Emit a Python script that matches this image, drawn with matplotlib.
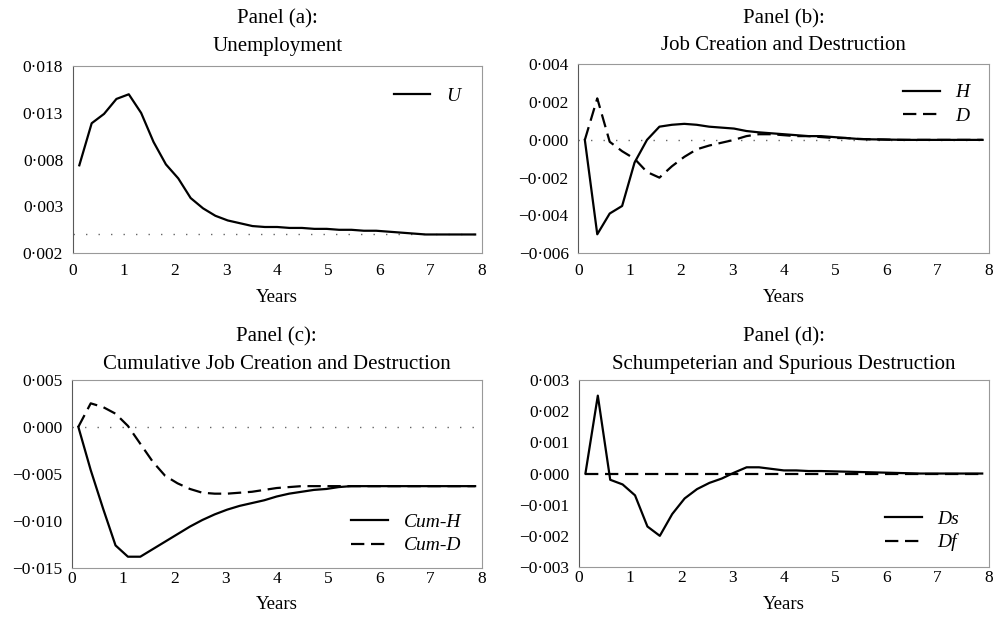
import matplotlib
matplotlib.use('Agg')
import matplotlib.pyplot as plt
import numpy as np

plt.rcParams['font.family'] = 'Liberation Serif'

# quarterly points, 33 of them between 1/8 and 7 7/8 years
years = np.linspace(0.125, 7.875, 33)

# Panel (a): unemployment
U = [0.0074, 0.0119, 0.0129, 0.0145, 0.0150, 0.0130, 0.0099, 0.0075, 0.0060,
     0.0039, 0.0028, 0.0020, 0.0015, 0.0012, 0.0009, 0.0008, 0.0008, 0.0007,
     0.0007, 0.0006, 0.0006, 0.0005, 0.0005, 0.0004, 0.0004, 0.0003, 0.0002,
     0.0001, 0.0, 0.0, 0.0, 0.0, 0.0]

# Panel (b): job creation H and destruction D
H = [0.0, -0.0050, -0.0039, -0.0035, -0.0012, 0.0, 0.0007, 0.0008, 0.00085,
     0.0008, 0.0007, 0.00065, 0.0006, 0.00047, 0.0004, 0.00035, 0.0003,
     0.00025, 0.0002, 0.0002, 0.00015, 0.0001, 0.00005, 0.00003, 0.00002,
     0.00001, 0.0, 0.0, 0.0, 0.0, 0.0, 0.0, 0.0]
D = [0.0, 0.0022, -0.0001, -0.0006, -0.0010, -0.0017, -0.0020, -0.0014,
     -0.0009, -0.0005, -0.0003, -0.00015, 0.0, 0.0002, 0.0003, 0.0003,
     0.00025, 0.0002, 0.0002, 0.00015, 0.0001, 0.0001, 0.00005, 0.00003,
     0.00002, 0.0, 0.0, 0.0, 0.0, 0.0, 0.0, 0.0, 0.0]

# Panel (c): cumulative creation and destruction
cum_H = [0.0, -0.0046, -0.0087, -0.0126, -0.0138, -0.0138, -0.0130, -0.0122,
         -0.0114, -0.0106, -0.0099, -0.0093, -0.0088, -0.0084, -0.0081,
         -0.0078, -0.0074, -0.0071, -0.0069, -0.0067, -0.0066, -0.0064,
         -0.0063, -0.0063, -0.0063, -0.0063, -0.0063, -0.0063, -0.0063,
         -0.0063, -0.0063, -0.0063, -0.0063]
cum_D = [0.0, 0.0025, 0.0021, 0.0014, 0.0001, -0.0018, -0.0037, -0.0052,
         -0.0060, -0.0066, -0.0070, -0.0071, -0.0071, -0.0070, -0.0069,
         -0.0067, -0.0065, -0.0064, -0.0063, -0.0063, -0.0063, -0.0063,
         -0.0063, -0.0063, -0.0063, -0.0063, -0.0063, -0.0063, -0.0063,
         -0.0063, -0.0063, -0.0063, -0.0063]

# Panel (d): Schumpeterian (Ds) and spurious (Df) destruction
Ds = [0.0, 0.0025, -0.0002, -0.00035, -0.0007, -0.0017, -0.0020, -0.0013,
      -0.0008, -0.0005, -0.0003, -0.00016, 0.00003, 0.0002, 0.0002, 0.00015,
      0.0001, 0.0001, 0.00008, 0.00008, 0.00007, 0.00006, 0.00005, 0.00004,
      0.00003, 0.00002, 0.00001, 0.0, 0.0, 0.0, 0.0, 0.0, 0.0]
Df = [0.0] * 33

# tick values and labels as printed
xticks = [0, 1, 2, 3, 4, 5, 6, 7, 8]
yticks_a = [0.018, 0.013, 0.008, 0.003, -0.002]
ylabels_a = ['0·018', '0·013', '0·008', '0·003', '0·002']
yticks_b = [0.004, 0.002, 0.0, -0.002, -0.004, -0.006]
ylabels_b = ['0·004', '0·002', '0·000', '−0·002', '−0·004', '−0·006']
yticks_c = [0.005, 0.0, -0.005, -0.010, -0.015]
ylabels_c = ['0·005', '0·000', '−0·005', '−0·010', '−0·015']
yticks_d = [0.003, 0.002, 0.001, 0.0, -0.001, -0.002, -0.003]
ylabels_d = ['0·003', '0·002', '0·001', '0·000', '−0·001', '−0·002', '−0·003']

dash = (0, (6, 3))
zero_dots = (0, (1, 8))


def style_panel(ax, title, yticks, ylabels, xpad, title_pad):
    ax.set_xlim(0, 8)
    ax.set_ylim(min(yticks), max(yticks))
    ax.set_xticks(xticks)
    ax.set_xticklabels([str(t) for t in xticks])
    ax.set_yticks(yticks)
    ax.set_yticklabels(ylabels)
    ax.tick_params(axis='y', length=0, labelsize=12.5, pad=7)
    ax.tick_params(axis='x', length=0, labelsize=12.5, pad=xpad)
    for side in ['top', 'right', 'bottom']:
        ax.spines[side].set_color('0.6')
        ax.spines[side].set_linewidth(0.8)
    ax.spines['left'].set_color('0.35')
    ax.spines['left'].set_linewidth(0.8)
    ax.set_title(title, fontsize=15, linespacing=1.6, pad=title_pad)
    ax.set_xlabel('Years', fontsize=13.5, labelpad=7)


fig = plt.figure(figsize=(9.99, 6.19), dpi=100)
leg_font = {'style': 'italic', 'size': 14}

# Panel (a)
ax = fig.add_axes([0.073, 0.591, 0.409, 0.302])
ax.axhline(0, color='0.4', lw=1, linestyle=zero_dots)
ax.plot(years, U, c='k', lw=1.6, label='U')
style_panel(ax, 'Panel (a):\nUnemployment', yticks_a, ylabels_a, 7, 11)
ax.legend(loc='upper right', frameon=False, handlelength=1.9,
          prop=leg_font, borderaxespad=0.7)

# Panel (b)
ax = fig.add_axes([0.579, 0.591, 0.411, 0.305])
ax.axhline(0, color='0.4', lw=1, linestyle=zero_dots)
ax.plot(years, H, c='k', lw=1.6, label='H')
ax.plot(years, D, c='k', lw=1.6, linestyle=dash, label='D')
style_panel(ax, 'Panel (b):\nJob Creation and Destruction',
            yticks_b, ylabels_b, 7, 10)
ax.legend(loc='upper right', frameon=False, handlelength=1.9,
          prop=leg_font, borderaxespad=0.6, labelspacing=0.3)

# Panel (c)
ax = fig.add_axes([0.072, 0.0824, 0.41, 0.304])
ax.axhline(0, color='0.4', lw=1, linestyle=zero_dots)
ax.plot(years, cum_H, c='k', lw=1.6, label='Cum-H')
ax.plot(years, cum_D, c='k', lw=1.6, linestyle=dash, label='Cum-D')
style_panel(ax, 'Panel (c):\nCumulative Job Creation and Destruction',
            yticks_c, ylabels_c, 2, 8)
ax.legend(loc='lower right', bbox_to_anchor=(0.983, 0), frameon=False,
          handlelength=1.9, prop=leg_font, borderaxespad=0.3,
          labelspacing=0.3)

# Panel (d)
ax = fig.add_axes([0.5796, 0.084, 0.41, 0.302])
ax.plot(years, Ds, c='k', lw=1.6, label='Ds')
ax.plot(years, Df, c='k', lw=1.6, linestyle=dash, label='Df')
style_panel(ax, 'Panel (d):\nSchumpeterian and Spurious Destruction',
            yticks_d, ylabels_d, 2, 8)
ax.legend(loc='lower right', bbox_to_anchor=(0.966, 0), frameon=False,
          handlelength=1.9, prop=leg_font, borderaxespad=0.4,
          labelspacing=0.3)

plt.savefig('out.png', dpi=100)
